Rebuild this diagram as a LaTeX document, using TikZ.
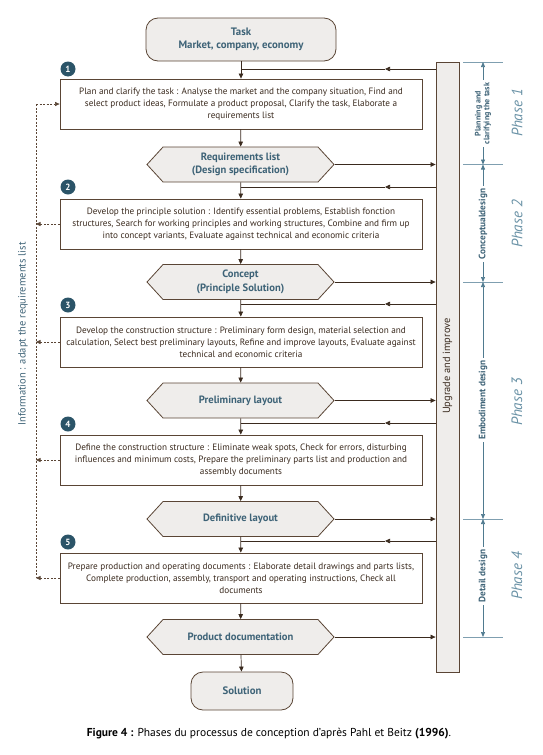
\documentclass[tikz,border=0pt]{standalone}
\usepackage{fontspec}
\setmainfont{PT Sans}
\usetikzlibrary{arrows.meta,shapes.symbols}
\definecolor{brn}{HTML}{5A4535}
\definecolor{darkbrn}{HTML}{3A2A1E}
\definecolor{fillg}{HTML}{EFEDEB}
\definecolor{tealtxt}{HTML}{3E6377}
\definecolor{badgec}{HTML}{2B5468}
\definecolor{dimc}{HTML}{4F7A8F}
\definecolor{tickc}{HTML}{7F9FB0}
\definecolor{phasec}{HTML}{6A92A6}
\begin{document}
\begin{tikzpicture}[x=1pt,y=-1pt,
 stepbox/.style={draw=brn, line width=0.8pt, fill=white, minimum width=362pt, minimum height=50pt, inner sep=0pt, align=center, font=\fontsize{9.2}{12}\selectfont, text=darkbrn},
 hexa/.style={signal, signal to=west and east, signal pointer angle=95, draw=brn, line width=0.8pt, fill=fillg, minimum width=187pt, minimum height=35pt, inner sep=0pt, align=center, font=\fontsize{10.6}{13.5}\selectfont\bfseries, text=tealtxt},
 term/.style={draw=brn, line width=0.8pt, fill=fillg, rounded corners=12pt, align=center, font=\fontsize{10.8}{13}\selectfont\bfseries, text=tealtxt, inner sep=0pt},
 badge/.style={circle, fill=badgec, text=white, font=\fontsize{9}{9}\selectfont\bfseries, minimum size=15pt, inner sep=0pt},
 ln/.style={draw=darkbrn, line width=0.7pt},
 arr/.style={ln, -{Triangle[length=5pt,width=4.5pt]}},
 dsh/.style={draw=brn, line width=0.6pt, dash pattern=on 2pt off 1.5pt},
 dsharr/.style={dsh, -{Triangle[length=4.5pt,width=4pt]}},
 tick/.style={draw=tickc, line width=0.9pt},
 dimarr/.style={draw=dimc, line width=0.7pt, {Triangle[length=5pt,width=4pt]}-{Triangle[length=5pt,width=4pt]}},
 dimtxt/.style={rotate=90, fill=white, inner sep=3pt, align=center, text=tealtxt, font=\fontsize{9.3}{10}\selectfont\bfseries},
 phasetxt/.style={rotate=90, text=phasec, font=\fontsize{15}{15}\selectfont\itshape}
]
\useasboundingbox (0,0) rectangle (543,755);

% upgrade bar
\node[draw=brn, line width=0.8pt, fill=fillg, minimum width=23pt, minimum height=610pt, inner sep=0pt] (bar) at (447.5,367) {};
\node[rotate=90, text=darkbrn, font=\fontsize{10.4}{11}\selectfont] (upg) at (447.5,366) {Upgrade and improve};

% terminal nodes
\node[term, minimum width=190pt, minimum height=43pt] (task) at (241,39.5) {Task\\Market, company, economy};
\node[term, minimum width=102pt, minimum height=38pt] (sol) at (242,691) {Solution};

% steps
\node[stepbox] (s1) at (241,104) {Plan and clarify the task : Analyse the market and the company situation, Find and\\ select product ideas, Formulate a product proposal, Clarify the task, Elaborate a\\ requirements list};
\node[stepbox] (s2) at (241,224) {Develop the principle solution : Identify essential problems, Establish fonction\\ structures, Search for working principles and working structures, Combine and firm up\\ into concept variants, Evaluate against technical and economic criteria};
\node[stepbox] (s3) at (241,342) {Develop the construction structure : Preliminary form design, material selection and\\ calculation, Select best preliminary layouts, Refine and improve layouts, Evaluate against\\ technical and economic criteria};
\node[stepbox] (s4) at (241,460) {Define the construction structure : Eliminate weak spots, Check for errors, disturbing\\ influences and minimum costs, Prepare the preliminary parts list and production and\\ assembly documents};
\node[stepbox] (s5) at (241,578) {Prepare production and operating documents : Elaborate detail drawings and parts lists,\\ Complete production, assembly, transport and operating instructions, Check all\\ documents};

% hexagons
\node[hexa] (h1) at (240.5,164.5) {Requirements list\\(Design specification)};
\node[hexa] (h2) at (240.5,282) {Concept\\(Principle Solution)};
\node[hexa] (h3) at (240.5,400.5) {Preliminary layout};
\node[hexa] (h4) at (240.5,519) {Definitive layout};
\node[hexa] (h5) at (240.5,637) {Product documentation};

% badges
\node[badge] (b1) at (68,69) {1};
\node[badge] (b2) at (68,187) {2};
\node[badge] (b3) at (68,305) {3};
\node[badge] (b4) at (68,424) {4};
\node[badge] (b5) at (68,542) {5};

% main flow
\draw[arr] (task) -- (s1);
\draw[arr] (s1) -- (h1);
\draw[arr] (h1) -- (s2);
\draw[arr] (s2) -- (h2);
\draw[arr] (h2) -- (s3);
\draw[arr] (s3) -- (h3);
\draw[arr] (h3) -- (s4);
\draw[arr] (s4) -- (h4);
\draw[arr] (h4) -- (s5);
\draw[arr] (s5) -- (h5);
\draw[arr] (h5) -- (sol);

% hexagons to bar
\foreach \h in {h1,h2,h3,h4,h5}{\draw[arr] (\h.east) -- (\h.east -| bar.west);}

% feedback from bar
\foreach \y/\k in {69/1,187/2,304/3,423/4,541/5}{
  \coordinate (fb\k) at (436,\y);
  \coordinate (fm\k) at (385,\y);
  \coordinate (fj\k) at (241,\y);
  \draw[arr] (fb\k) -- (fm\k);
  \draw[ln] (fm\k) -- (fj\k);
}

% information dashed loop
\coordinate (d1) at (36,104);
\coordinate (d5) at (36,578);
\draw[dsh] (d1) -- (d5);
\draw[dsharr] (d1) -- (s1.west);
\foreach \s in {s2,s3,s4,s5}{\draw[dsharr] (\s.west) -- (\s.west -| d1);}
\node[rotate=90, text=tealtxt, font=\fontsize{10.5}{11}\selectfont] (info) at (23,334) {Information : adapt the requirements list};

% phase dimensions
\foreach \y/\k in {62/0,164.5/1,282/2,519/3,637/4}{
  \coordinate (tl\k) at (463,\y);
  \coordinate (tr\k) at (503,\y);
  \coordinate (tc\k) at (483,\y);
  \draw[tick] (tl\k) -- (tr\k);
}
\draw[dimarr] (tc0) -- (tc1);
\draw[dimarr] (tc1) -- (tc2);
\draw[dimarr] (tc2) -- (tc3);
\draw[dimarr] (tc3) -- (tc4);
\node[dimtxt, font=\fontsize{8}{8.8}\selectfont\bfseries, inner sep=2.5pt] (p1) at (483,113.5) {Planning and\\clarifying the task};
\node[dimtxt] (p2) at (483,224) {Conceptualdesign};
\node[dimtxt] (p3) at (483,400) {Embodiment design};
\node[dimtxt] (p4) at (483,576) {Detail design};

\node[phasetxt] (ph1) at (517,113) {Phase 1};
\node[phasetxt] (ph2) at (517,224) {Phase 2};
\node[phasetxt] (ph3) at (517,402) {Phase 3};
\node[phasetxt] (ph4) at (517,576) {Phase 4};

% caption
\node[font=\fontsize{11.5}{13}\selectfont, text=black] (cap) at (269,734) {\textbf{Figure 4 :} Phases du processus de conception d’après Pahl et Beitz \textbf{(1996)}.};
\end{tikzpicture}
\end{document}
